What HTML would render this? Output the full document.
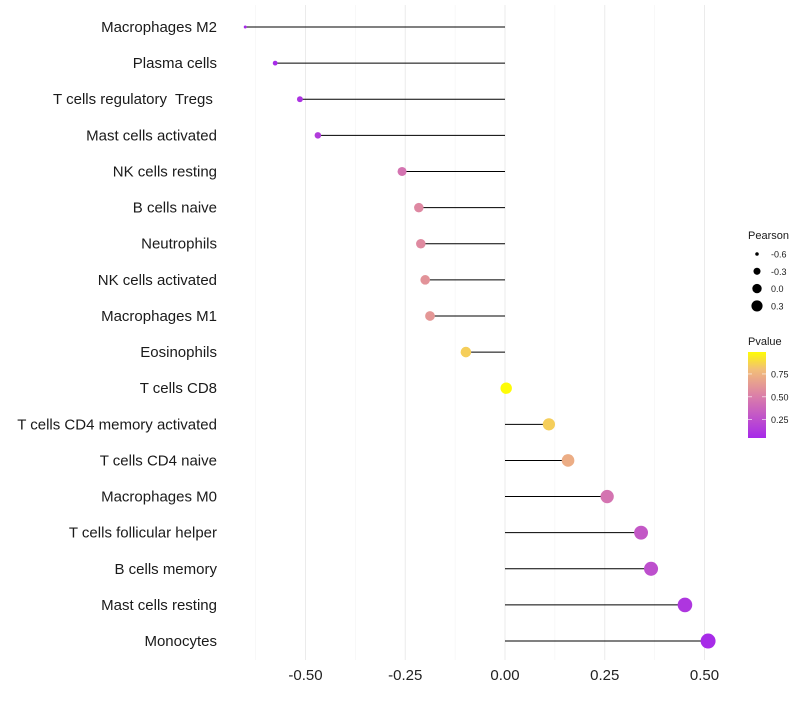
<!DOCTYPE html>
<html><head><meta charset="utf-8"><style>
body{margin:0;background:#fff;font-family:"Liberation Sans",sans-serif}
.lbl{white-space:pre}
</style></head><body>
<svg id="chart" width="800" height="700"></svg>
<script>
const categories=["Macrophages M2","Plasma cells","T cells regulatory  Tregs ","Mast cells activated","NK cells resting","B cells naive","Neutrophils","NK cells activated","Macrophages M1","Eosinophils","T cells CD8","T cells CD4 memory activated","T cells CD4 naive","Macrophages M0","T cells follicular helper","B cells memory","Mast cells resting","Monocytes"];
const pearson=[-0.651,-0.576,-0.514,-0.469,-0.258,-0.216,-0.211,-0.2,-0.188,-0.098,0.003,0.11,0.158,0.256,0.341,0.366,0.451,0.509];
const pvalue=[0.05,0.06,0.1,0.15,0.45,0.55,0.56,0.6,0.62,0.85,0.99,0.85,0.72,0.45,0.3,0.25,0.12,0.06];
const xTicks=[-0.5,-0.25,0,0.25,0.5];
const xTickLabels=["-0.50","-0.25","0.00","0.25","0.50"];
const sizeBreaks=[-0.6,-0.3,0.0,0.3];
const sizeLabels=["-0.6","-0.3","0.0","0.3"];
const pBreaks=[0.25,0.5,0.75];
const pLabels=["0.25","0.50","0.75"];

const NS="http://www.w3.org/2000/svg";
const svg=document.getElementById('chart');
function mk(t,a,p){const e=document.createElementNS(NS,t);for(const k in a)e.setAttribute(k,a[k]);(p||svg).appendChild(e);return e;}
const X=v=>505+v*399;
const Y=i=>27+i*36.12;
const R=v=>Math.sqrt(Math.max(1,32.4+46.3*v));
const stops=[[0,[160,32,240]],[0.5,[218,125,170]],[0.8,[242,190,120]],[1,[255,255,0]]];
function col(p){p=Math.max(0,Math.min(1,p));for(let i=1;i<stops.length;i++){if(p<=stops[i][0]){const a=stops[i-1],b=stops[i],t=(p-a[0])/(b[0]-a[0]);return 'rgb('+a[1].map((c,j)=>Math.round(c+(b[1][j]-c)*t)).join(',')+')';}}}
const grid=mk('g',{});


[-0.625,-0.375,-0.125,0.125,0.375].forEach(v=>mk('line',{x1:X(v),x2:X(v),y1:5,y2:660,stroke:'#f4f4f4','stroke-width':0.6},grid));
xTicks.forEach(v=>mk('line',{x1:X(v),x2:X(v),y1:5,y2:660,stroke:'#ebebeb','stroke-width':1},grid));
xTicks.forEach((v,i)=>{const t=mk('text',{x:X(v),y:680,'text-anchor':'middle','font-size':15,fill:'#222'});t.textContent=xTickLabels[i];

});
categories.forEach((c,i)=>{
 const t=mk('text',{x:217,y:Y(i)+5,'text-anchor':'end','font-size':15,fill:'#1a1a1a','class':'lbl'});t.textContent=c;
 
 
 const l=mk('line',{x1:X(0),x2:X(pearson[i]),y1:Y(i),y2:Y(i),stroke:'#000','stroke-width':1});
 
 
 const d=mk('circle',{cx:X(pearson[i]),cy:Y(i),r:R(pearson[i]),fill:col(pvalue[i])});
 
 
});
const lt=mk('text',{x:748,y:239,'font-size':11,fill:'#1a1a1a'});lt.textContent='Pearson';


sizeBreaks.forEach((v,i)=>{const y=254+i*17.3;
 const c=mk('circle',{cx:757,cy:y,r:R(v)*0.82,fill:'#000'});
 
 
 const t=mk('text',{x:771,y:y+3.5,'font-size':9,fill:'#1a1a1a'});t.textContent=sizeLabels[i];
 
 });
const pt=mk('text',{x:748,y:345,'font-size':11,fill:'#1a1a1a'});pt.textContent='Pvalue';


const defs=mk('defs',{});const g=mk('linearGradient',{id:'pg',x1:0,y1:1,x2:0,y2:0},defs);
const pMin=0.05,pMax=0.99,barTop=352,barBot=438;
for(let k=0;k<=10;k++){const p=pMin+(pMax-pMin)*k/10;mk('stop',{offset:k/10,'stop-color':col(p)},g);}
const bar=mk('rect',{x:748,y:barTop,width:18,height:barBot-barTop,fill:'url(#pg)'});


const PY=p=>barBot-(p-pMin)/(pMax-pMin)*(barBot-barTop);
pBreaks.forEach((p,i)=>{const y=PY(p);
 mk('line',{x1:748,x2:752,y1:y,y2:y,stroke:'#fff','stroke-width':0.6});mk('line',{x1:762,x2:766,y1:y,y2:y,stroke:'#fff','stroke-width':0.6});
 const t=mk('text',{x:771,y:y+3.5,'font-size':9,fill:'#1a1a1a'});t.textContent=pLabels[i];
 
 });
</script>
</body></html>
